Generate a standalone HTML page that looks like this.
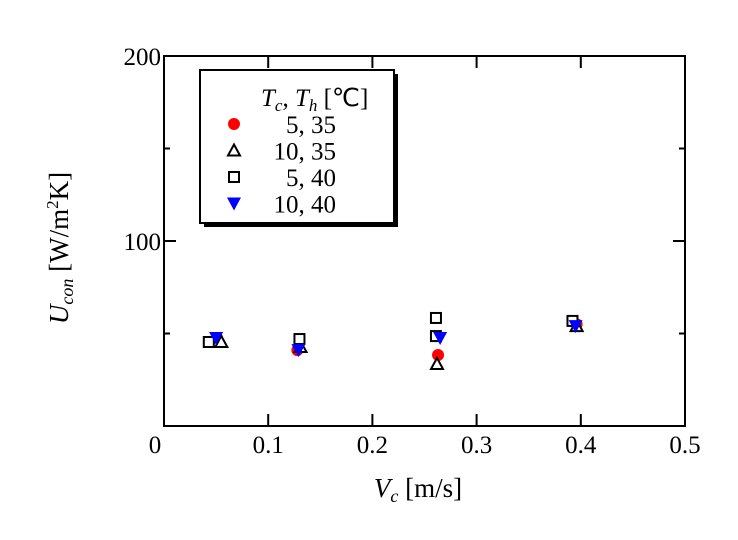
<!DOCTYPE html>
<html><head><meta charset="utf-8"><style>
body{margin:0;background:#fff;}
svg{display:block;font-family:"Liberation Serif",serif;}
</style></head><body>
<svg id="chart" width="738" height="540" xmlns="http://www.w3.org/2000/svg">
<g id="axes"></g>
<g id="marks"></g>
<g id="legend">
<rect x="204" y="74" width="194" height="153" fill="#000"/>
<rect x="200" y="70" width="194" height="153" fill="#fff" stroke="#000" stroke-width="2"/>
<text x="261" y="106" style="font-size:25px"><tspan font-style="italic">T</tspan><tspan font-style="italic" style="font-size:17px" dy="5">c</tspan><tspan dy="-5">, </tspan><tspan font-style="italic">T</tspan><tspan font-style="italic" style="font-size:17px" dy="5">h</tspan><tspan dy="-5"> [℃]</tspan></text>
</g>
<text x="418" y="497" style="font-size:27px" text-anchor="middle"><tspan font-style="italic">V</tspan><tspan font-style="italic" style="font-size:18px" dy="5">c</tspan><tspan dy="-5"> [m/s]</tspan></text>
<text transform="translate(68,248) rotate(-90)" style="font-size:27px" text-anchor="middle"><tspan font-style="italic">U</tspan><tspan font-style="italic" style="font-size:18px" dy="5">con</tspan><tspan dy="-5"> [W/m</tspan><tspan style="font-size:17px" dy="-10">2</tspan><tspan dy="10">K]</tspan></text>
</svg>
<script>
const xTicks=[0,0.1,0.2,0.3,0.4,0.5];
const xTickLabels=["0","0.1","0.2","0.3","0.4","0.5"];
const yTicks=[0,100,200];
const yTickLabels=["","100","200"];
const yMinorTicks=[50,150];
const seriesNames=["5, 35","10, 35","5, 40","10, 40"];
const s1x=[0.051,0.128,0.263,0.396];
const s1y=[47.6,41,38.4,55];
const s2x=[0.055,0.131,0.262,0.396];
const s2y=[45.4,42.7,33.5,54];
const s3x=[0.043,0.130,0.261,0.261,0.392];
const s3y=[45.4,47,58.4,48.6,56.8];
const s4x=[0.050,0.129,0.265,0.395];
const s4y=[47.6,41,47.6,54];
const L=164,R=685,T=56,B=426;
const X=v=>L+(R-L)*v/0.5;
const Y=v=>B-(B-T)*v/200;
const NS="http://www.w3.org/2000/svg";
function mk(tag,attrs,parent){const e=document.createElementNS(NS,tag);for(const k in attrs)e.setAttribute(k,attrs[k]);parent.appendChild(e);return e;}
const ax=document.getElementById('axes');
const frame=mk('rect',{x:L,y:T,width:R-L,height:B-T,fill:'none',stroke:'#000','stroke-width':2},ax);


xTicks.forEach((v,i)=>{
 const t1=mk('line',{x1:X(v),x2:X(v),y1:B,y2:B-12,stroke:'#000','stroke-width':2},ax);
 
 
 const t2=mk('line',{x1:X(v),x2:X(v),y1:T,y2:T+12,stroke:'#000','stroke-width':2},ax);
 
 
 const lb=mk('text',{x:(v===0?X(v)-9:X(v)),y:B+27,'text-anchor':'middle'},ax);
 lb.style.fontSize='25px';
 lb.textContent=xTickLabels[i];
 
 
});
yTicks.forEach((v,i)=>{
 const t1=mk('line',{x1:L,x2:L+12,y1:Y(v),y2:Y(v),stroke:'#000','stroke-width':2},ax);
 
 
 const t2=mk('line',{x1:R,x2:R-12,y1:Y(v),y2:Y(v),stroke:'#000','stroke-width':2},ax);
 
 
 const lb=mk('text',{x:L-3,y:Y(v)+9,'text-anchor':'end'},ax);
 lb.style.fontSize='25px';
 lb.textContent=yTickLabels[i];
 
 
});
yMinorTicks.forEach(v=>{
 const t1=mk('line',{x1:L,x2:L+6,y1:Y(v),y2:Y(v),stroke:'#000','stroke-width':2},ax);
 
 
 const t2=mk('line',{x1:R,x2:R-6,y1:Y(v),y2:Y(v),stroke:'#000','stroke-width':2},ax);
 
 
});
function marker(type,cx,cy,parent){
 let e;
 if(type===0)e=mk('circle',{cx:cx,cy:cy,r:6,fill:'#f00'},parent);
 else if(type===1)e=mk('polygon',{points:`${cx},${cy-6} ${cx-6},${cy+5} ${cx+6},${cy+5}`,fill:'#fff',stroke:'#000','stroke-width':2},parent);
 else if(type===2)e=mk('rect',{x:cx-5,y:cy-5,width:10,height:10,fill:'#fff',stroke:'#000','stroke-width':2},parent);
 else e=mk('polygon',{points:`${cx-7},${cy-6} ${cx+7},${cy-6} ${cx},${cy+7}`,fill:'#00f'},parent);
 return e;
}
const mg=document.getElementById('marks');
const allX=[s1x,s2x,s3x,s4x],allY=[s1y,s2y,s3y,s4y];
const snames=['series-5-35','series-10-35','series-5-40','series-10-40'];
allX.forEach((xs,s)=>{
 const g=mk('g',{},mg);
 
 
 xs.forEach((xv,i)=>{
  const m=marker(s,X(xv),Y(allY[s][i]),g);
  
  
 });
});
const lg=document.getElementById('legend');
seriesNames.forEach((n,i)=>{
 const cy=124+i*26.5;
 const m=marker(i,234,cy,lg);
 
 
 const t=mk('text',{x:336,y:cy+9,'text-anchor':'end'},lg);
 t.style.fontSize='25px';
 t.textContent=n;
 
 
});
</script>
</body></html>
